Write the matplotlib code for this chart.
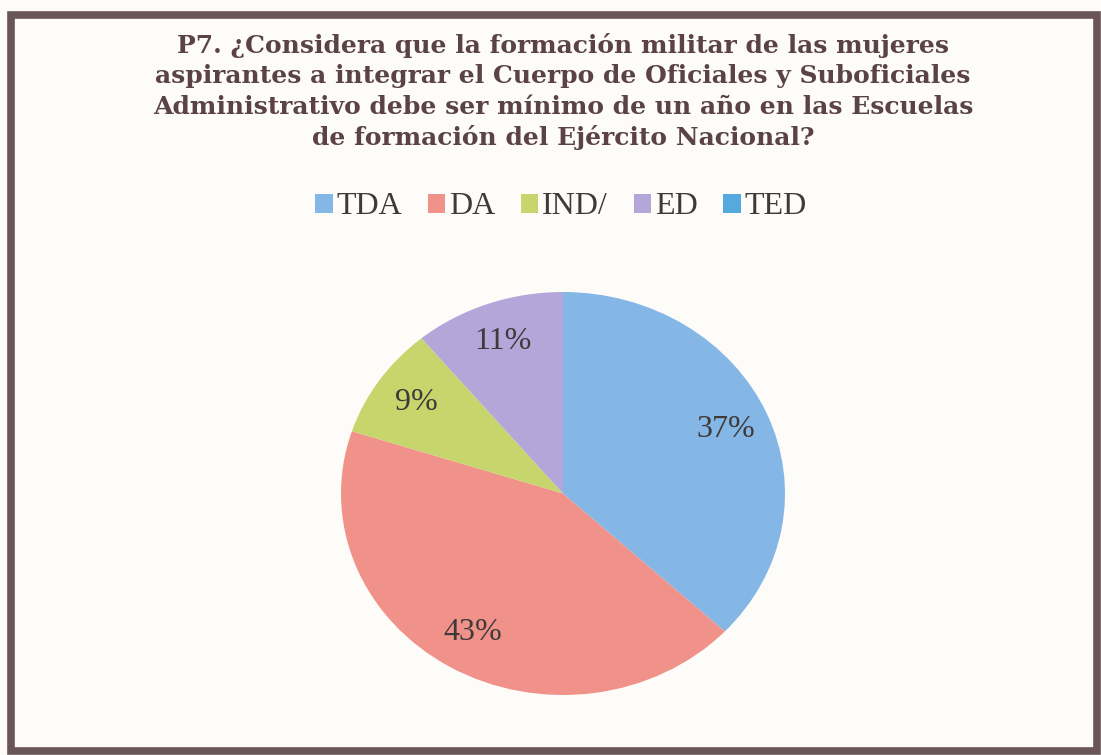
import matplotlib
matplotlib.use("Agg")
import matplotlib.pyplot as plt
from matplotlib.patches import Rectangle

categories = ["TDA", "DA", "IND/", "ED", "TED"]
values = [37, 43, 9, 11, 0]
colors = ["#84b6e6", "#f0928a", "#c6d56c", "#b5a6da", "#55a9de"]
title_lines = [
    "P7. ¿Considera que la formación militar de las mujeres",
    "aspirantes a integrar el Cuerpo de Oficiales y Suboficiales",
    "Administrativo debe ser mínimo de un año en las Escuelas",
    "de formación del Ejército Nacional?",
]

W, H = 1101, 755
fig = plt.figure(figsize=(W / 100, H / 100), dpi=100)
fig.patch.set_facecolor("#fdfcf8")

serif = ["Liberation Serif", "DejaVu Serif"]
title_font = ["DejaVu Serif"]
text_col = "#3f3a3a"
title_col = "#5a4248"

# border
fig.patches.append(Rectangle((11 / W, 4 / H), 1086 / W, 736 / H, transform=fig.transFigure,
                             fill=False, edgecolor="#6a5659", linewidth=5.5, zorder=0))

# title: fit the widest line to the reference width
title_y = [45, 76, 107, 138]
texts = []
for line, y in zip(title_lines, title_y):
    texts.append(fig.text(563 / W, 1 - y / H, line, ha="center", va="center", fontsize=18,
                          fontweight="bold", family=title_font, color=title_col))
renderer = fig.canvas.get_renderer()
widest = max(t.get_window_extent(renderer).width for t in texts)
size = 18 * 820 / widest
for t in texts:
    t.set_fontsize(size)

# pie (slightly elliptical, as in the scanned reference)
cx, cy, rx, ry = 563, 493.5, 222, 201.5
ax = fig.add_axes([(cx - rx) / W, 1 - (cy + ry) / H, 2 * rx / W, 2 * ry / H])
wedges, _, autotexts = ax.pie(
    values, colors=colors, startangle=90, counterclock=False,
    autopct=lambda p: f"{p:.0f}%" if p > 0.5 else "", pctdistance=0.8,
    textprops=dict(fontsize=23, family=serif, color=text_col),
    wedgeprops=dict(linewidth=0),
)
ax.set_aspect("auto")
ax.set_xlim(-1, 1)
ax.set_ylim(-1, 1)
ax.axis("off")

leg = fig.legend(wedges, categories, loc="center", bbox_to_anchor=(561 / W, 1 - 207 / H),
                 ncol=5, frameon=False, handlelength=0.55, handleheight=0.55,
                 handletextpad=0.12, columnspacing=0.8,
                 prop=dict(family=serif, size=23))
for t in leg.get_texts():
    t.set_color(text_col)

fig.savefig("out.png", dpi=100, facecolor=fig.get_facecolor())
